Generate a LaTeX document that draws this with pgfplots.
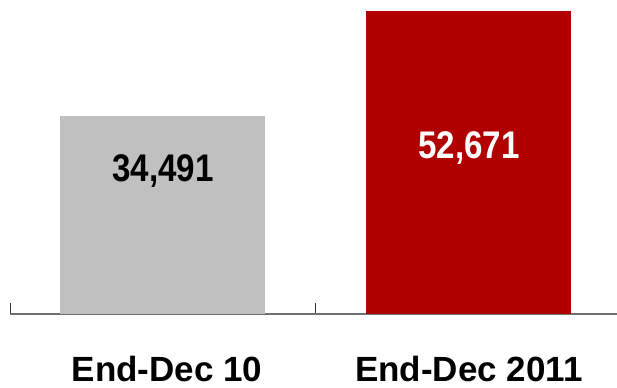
\documentclass[border=0pt]{standalone}
\usepackage{pgfplots}
\pgfplotsset{compat=1.18}
\usepackage{fontspec}
\setmainfont{Liberation Sans}
\definecolor{bargray}{HTML}{C0C0C0}
\definecolor{barred}{HTML}{B00000}
\definecolor{axisgray}{HTML}{707070}
\definecolor{tickgray}{HTML}{333333}
\newcommand{\numlab}[1]{\scalebox{0.86}[1]{#1}}
\begin{document}
\begin{tikzpicture}
\begin{axis}[
  at={(0,0)}, anchor=origin,
  scale only axis,
  width=607bp, height=314bp,
  xmin=0, xmax=1.984,
  ymin=0, ymax=54600,
  axis x line=bottom, axis y line=none,
  axis line style={axisgray, line width=1.5bp, -},
  xtick={0,1},
  xticklabels={},
  major tick length=11bp, tick align=outside,
  tick style={tickgray, line width=1bp, yshift=11bp},
  ytick=\empty,
  clip=false,
  ybar, bar width=0.67, bar shift=0pt,
]
\addplot[fill=bargray, draw=none] coordinates {(0.5,34491)};
\addplot[fill=barred, draw=none] coordinates {(1.5,52671)};
\node[font=\bfseries\fontsize{38.5bp}{42bp}\selectfont, text=black] at (axis cs:0.5,24850) {\numlab{34,491}};
\node[font=\bfseries\fontsize{38.5bp}{42bp}\selectfont, text=white] at (axis cs:1.5,28900) {\numlab{52,671}};
\node[font=\bfseries\fontsize{35bp}{40bp}\selectfont, inner sep=0pt, anchor=base, yshift=-67bp, xshift=4bp] at (axis cs:0.5,0) {End-Dec 10};
\node[font=\bfseries\fontsize{35bp}{40bp}\selectfont, inner sep=0pt, anchor=base, yshift=-67bp] at (axis cs:1.5,0) {End-Dec 2011};
\end{axis}
\pgfresetboundingbox
\path (-10bp,-74bp) rectangle (607bp,314bp);
\end{tikzpicture}
\end{document}
